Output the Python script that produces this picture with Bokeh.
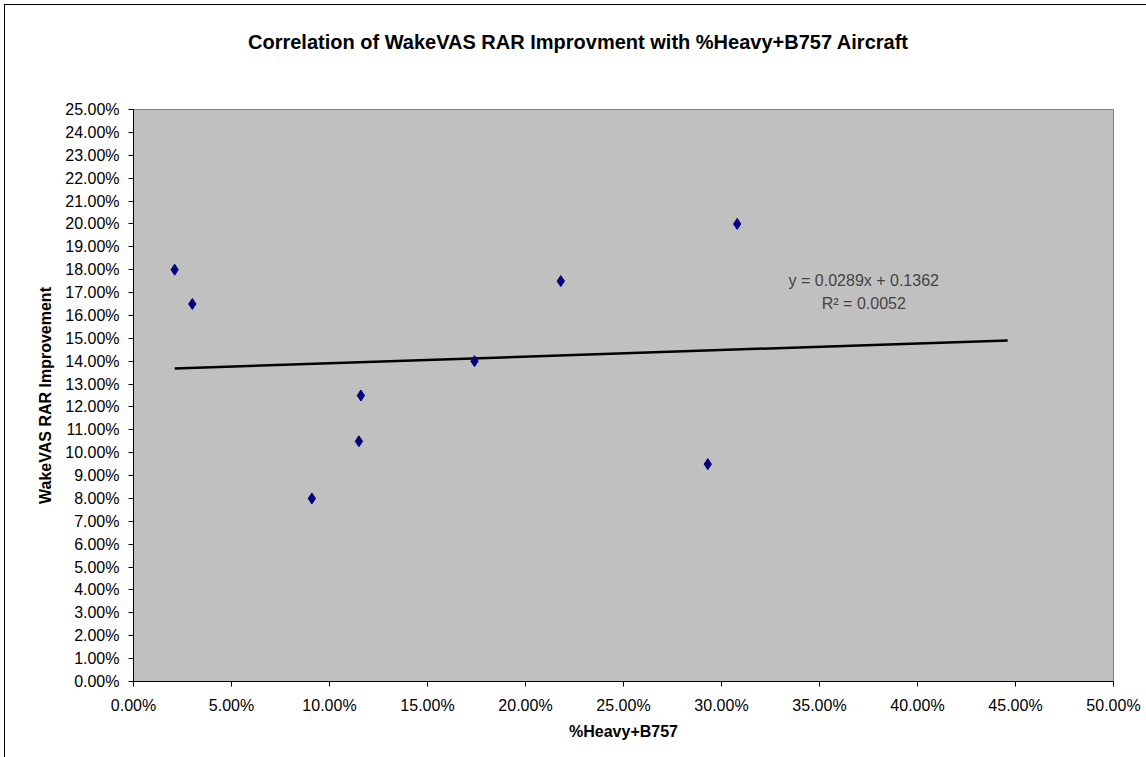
from bokeh.plotting import figure
from bokeh.models import Range1d, NumeralTickFormatter, FixedTicker, Label, Div
from bokeh.layouts import column
from bokeh.embed import file_html
from bokeh.resources import INLINE

# data (fractions)
heavy_pct = [0.021, 0.030, 0.091, 0.115, 0.116, 0.174, 0.218, 0.293, 0.308]
rar_improvement = [0.180, 0.165, 0.080, 0.105, 0.125, 0.140, 0.175, 0.095, 0.200]
trend_slope = 0.0289
trend_intercept = 0.1362
trend_x = [0.021, 0.446]
trend_y = [trend_slope * x + trend_intercept for x in trend_x]
x_ticks = [i * 0.05 for i in range(11)]
y_ticks = [i * 0.01 for i in range(26)]
title_text = "Correlation of WakeVAS RAR Improvment with %Heavy+B757 Aircraft"

FONT = "Liberation Sans"

title_div = Div(text=title_text, width=1136, height=64,
                styles={"text-align": "center", "font-family": FONT, "font-size": "20px",
                        "font-weight": "bold", "color": "black", "padding-top": "18px",
                        "box-sizing": "border-box", "background": "white"})

p = figure(width=1136, height=678, output_backend="svg", toolbar_location=None,
           x_range=Range1d(0, 0.5), y_range=Range1d(0, 0.25),
           min_border_left=128, min_border_right=28, min_border_top=30, min_border_bottom=76)
p.background_fill_color = "#C0C0C0"
p.border_fill_color = "white"
p.outline_line_color = "#808080"
p.xgrid.visible = False
p.ygrid.visible = False

for ax in (p.xaxis, p.yaxis):
    ax.formatter = NumeralTickFormatter(format="0.00%")
    ax.major_label_text_font = FONT
    ax.major_label_text_font_size = "16px"
    ax.major_label_text_color = "black"
    ax.axis_label_text_font = FONT
    ax.axis_label_text_font_size = "16px"
    ax.axis_label_text_font_style = "bold"
    ax.axis_label_text_color = "black"
    ax.axis_line_color = "black"
    ax.major_tick_line_color = "black"
    ax.major_tick_out = 5
    ax.major_tick_in = 0
    ax.minor_tick_line_color = None

p.xaxis.ticker = FixedTicker(ticks=x_ticks)
p.yaxis.ticker = FixedTicker(ticks=y_ticks)
p.xaxis.axis_label = "%Heavy+B757"
p.yaxis.axis_label = "WakeVAS RAR Improvement"
p.xaxis.major_label_standoff = 10
p.yaxis.major_label_standoff = 9
p.xaxis.axis_label_standoff = 6
p.yaxis.axis_label_standoff = 8

p.line(trend_x, trend_y, line_color="black", line_width=2.5)
p.scatter(heavy_pct, rar_improvement, marker="diamond", size=11,
          fill_color="#000080", line_color="#000080")

p.add_layout(Label(x=0.3726, y=0.1753, text="y = 0.0289x + 0.1362", text_align="center",
                   text_baseline="middle", text_font=FONT, text_font_size="16px"))
p.add_layout(Label(x=0.3726, y=0.1653, text="R\u00b2 = 0.0052", text_align="center",
                   text_baseline="middle", text_font=FONT, text_font_size="16px"))

layout = column(title_div, p, spacing=0,
                styles={"margin-left": "5px", "margin-top": "5px", "outline": "1px solid black",
                        "background": "white"})

open("out.html", "w").write(file_html(layout, INLINE))
